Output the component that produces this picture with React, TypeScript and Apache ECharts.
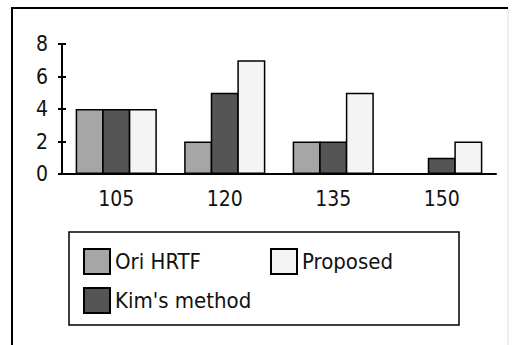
import React, { useEffect, useRef } from "react";
import * as echarts from "echarts";

const categories = ["105", "120", "135", "150"];
const oriHRTF = [4, 2, 2, 0];
const kimMethod = [4, 5, 2, 1];
const proposed = [4, 7, 5, 2];
const seriesNames = ["Ori HRTF", "Kim's method", "Proposed"];
const legendColumn1 = ["Ori HRTF", "Kim's method"];
const legendColumn2 = ["Proposed"];
const colors = ["#a6a6a6", "#555555", "#f4f4f4"];

export default function App() {
  const ref = useRef<HTMLDivElement>(null);
  useEffect(() => {
    document.body.style.margin = "0";
    const chart = echarts.init(ref.current!, null, { renderer: "svg" });
    const data = [oriHRTF, kimMethod, proposed];
    const font = "'DejaVu Sans Condensed', 'DejaVu Sans', sans-serif";
    const legendBase = {
      orient: "vertical",
      top: 248,
      padding: 0,
      itemWidth: 26,
      itemHeight: 25,
      itemGap: 12,
      itemTextGap: 11,
      icon: "rect",
      selectedMode: false,
      textStyle: { color: "#111", fontFamily: font, fontSize: 22 },
    };
    chart.setOption({
      animation: false,
      backgroundColor: "#ffffff",
      grid: { left: 62, right: 20, top: 44, bottom: 171 },
      xAxis: {
        type: "category",
        data: categories,
        axisLine: { lineStyle: { color: "#000", width: 2 } },
        axisTick: { show: false },
        axisLabel: { color: "#111", fontFamily: font, fontSize: 21, margin: 14 },
      },
      yAxis: [
        {
          type: "value",
          min: 0,
          max: 8,
          interval: 2,
          splitLine: { show: false },
          axisLine: { show: true, lineStyle: { color: "#000", width: 2 } },
          axisTick: { show: true, length: 4, lineStyle: { color: "#000", width: 2 } },
          axisLabel: { color: "#111", fontFamily: font, fontSize: 21, margin: 14 },
        },
        {
          type: "value",
          position: "left",
          min: 0,
          max: 8,
          interval: 2,
          splitLine: { show: false },
          axisLine: { show: false },
          axisTick: { show: true, inside: true, length: 4, lineStyle: { color: "#000", width: 2 } },
          axisLabel: { show: false },
        },
      ],
      legend: [
        { ...legendBase, data: legendColumn1, left: 83 },
        { ...legendBase, data: legendColumn2, left: 270 },
      ],
      series: seriesNames.map((name, i) => ({
        name,
        type: "bar",
        data: data[i],
        barWidth: 28,
        barGap: "-5%",
        itemStyle: { color: colors[i], borderColor: "#000", borderWidth: 1.5 },
      })),
      graphic: [
        {
          type: "polyline",
          shape: { points: [[12, 345], [12, 8], [508, 8]] },
          style: { stroke: "#000", lineWidth: 2, fill: "none" },
        },
        {
          type: "line",
          shape: { x1: 508, y1: 9, x2: 508, y2: 345 },
          style: { stroke: "#dddddd", lineWidth: 1 },
        },
        {
          type: "rect",
          shape: { x: 69, y: 232, width: 390, height: 93 },
          style: { stroke: "#000", lineWidth: 1.5, fill: "none" },
        },
      ],
    });
    return () => chart.dispose();
  }, []);
  return <div ref={ref} style={{ width: 516, height: 345 }} />;
}
